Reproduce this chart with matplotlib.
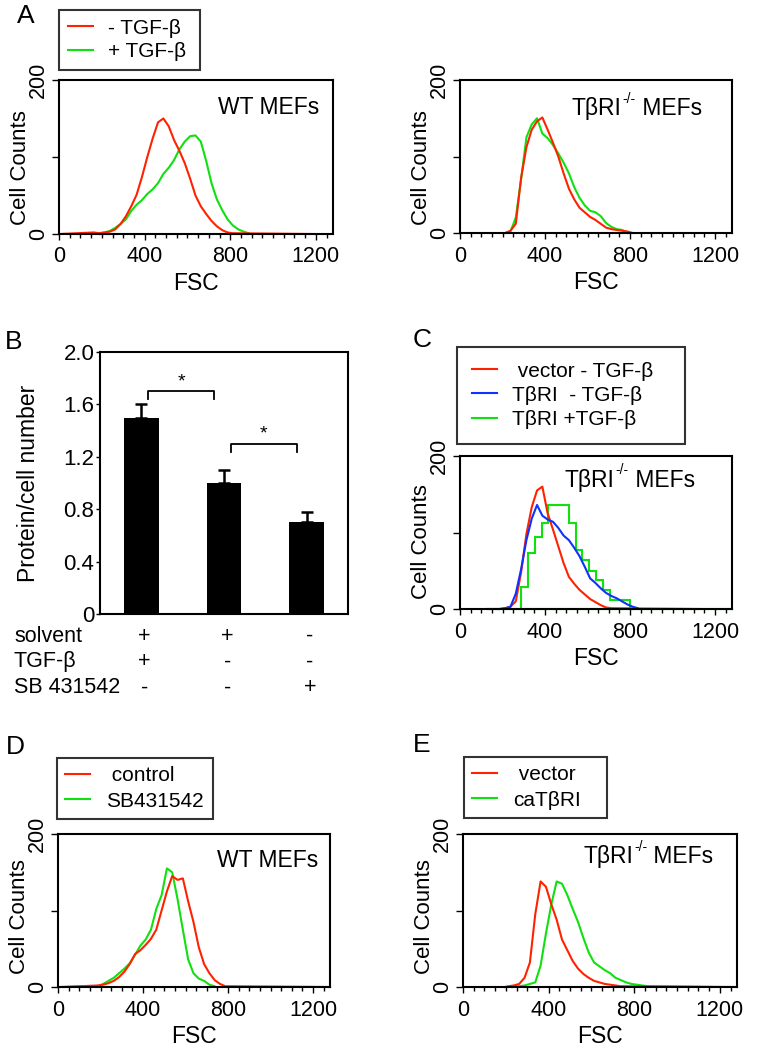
import numpy as np
import matplotlib as mpl
mpl.use('Agg')
import matplotlib.pyplot as plt
from matplotlib.lines import Line2D
from matplotlib.ticker import MultipleLocator
import matplotlib.transforms as mtransforms

plt.rcParams['font.family'] = ['Liberation Sans', 'DejaVu Sans']

RED = '#ff2200'
GREEN = '#10e010'
BLUE = '#1030ff'

# ---------------- histogram data (FSC, bin width 25) ----------------
FSC_BIN = 25

# A, WT MEFs
a_wt_minus_start = 150
a_wt_minus = [2, 1, 2, 3, 6, 13, 23, 36, 51, 74, 100, 124, 145, 150, 140, 122,
              108, 92, 72, 50, 36, 26, 17, 10, 5, 2, 1]
a_wt_minus_span = (5, 1180)
a_wt_plus_start = 175
a_wt_plus = [1, 2, 4, 8, 13, 19, 30, 38, 44, 52, 58, 66, 78, 86, 96, 110, 120,
             127, 128, 120, 95, 66, 45, 31, 19, 11, 6, 3, 1]
a_wt_plus_span = (190, 880)

# A, TbRI-/- MEFs
a_ko_minus_start = 200
a_ko_minus = [0, 3, 12, 72, 112, 135, 146, 151, 135, 118, 100, 78, 58, 44, 33,
              27, 21, 17, 12, 7, 5, 4, 3, 2, 0]
a_ko_plus_start = 200
a_ko_plus = [0, 2, 20, 70, 125, 142, 150, 130, 124, 115, 104, 92, 78, 60, 46,
             36, 29, 27, 22, 13, 8, 5, 4, 0]

# C, TbRI-/- MEFs re-expression
c_vec_start = 175
c_vec = [0, 1, 3, 10, 48, 98, 133, 155, 160, 125, 104, 82, 60, 42, 33, 25, 19,
         13, 9, 5, 2, 1]
c_vec_span = (180, 1120)
c_tbri_start = 125
c_tbri = [0, 0, 0, 1, 3, 20, 52, 90, 118, 136, 122, 117, 114, 106, 96, 90, 80,
          69, 55, 40, 34, 27, 21, 17, 14, 10, 6, 3, 1]
c_tbri_span = (128, 814)
# coarse-binned sample
c_tbri_tgf_edges = [288, 320, 352, 384, 416, 448, 480, 512, 544, 576, 608, 640,
                    672, 704, 736, 768, 800]
c_tbri_tgf = [29, 73, 94, 112, 136, 136, 136, 112, 77, 64, 50, 38, 25, 12, 12, 12]
c_tbri_tgf_span = (141, 1280)

# D, WT MEFs +/- SB431542
d_ctrl_start = 175
d_ctrl = [2, 3, 5, 8, 13, 20, 30, 43, 48, 55, 63, 75, 100, 125, 145, 140, 142,
          112, 85, 52, 30, 18, 9, 4, 1]
d_ctrl_span = (24, 1280)
d_sb_start = 175
d_sb = [1, 4, 8, 12, 18, 24, 31, 42, 54, 62, 75, 102, 120, 155, 150, 115, 75,
        36, 18, 11, 8, 3, 1]
d_sb_span = (0, 720)

# E, TbRI-/- MEFs vector / caTbRI
e_vec_start = 200
e_vec = [1, 2, 4, 12, 32, 95, 138, 131, 108, 88, 62, 48, 34, 24, 17, 12, 8, 6,
         4, 3, 2, 1]
e_vec_span = (196, 1168)
e_ca_start = 225
e_ca = [1, 1, 2, 4, 6, 28, 70, 108, 138, 135, 120, 102, 85, 64, 45, 32, 27, 22,
        18, 12, 9, 6, 4, 3, 2, 1]
e_ca_span = (230, 1280)

# ---------------- bar data (panel B) ----------------
b_values = [1.5, 1.0, 0.7]
b_errors = [0.1, 0.1, 0.08]
b_rows = ['solvent', 'TGF-β', 'SB 431542']
b_signs = [['+', '+', '-'],
           ['+', '-', '-'],
           ['-', '-', '+']]
b_sig = [(0, 1, 1.70), (1, 2, 1.30)]

W, H = 761, 1050
fig = plt.figure(figsize=(W / 100, H / 100), dpi=100)

TICK_FS = 15.5
LABEL_FS = 16.5
LEG_FS = 15


def px_axes(x0, y0, x1, y1):
    return fig.add_axes([x0 / W, 1 - y1 / H, (x1 - x0) / W, (y1 - y0) / H])


def hist_line(ax, start, counts, color, span=None):
    x = start + FSC_BIN * np.arange(len(counts)) + FSC_BIN / 2
    y = np.asarray(counts, dtype=float)
    if span is not None:
        x = np.concatenate([[span[0]], x, [span[1]]])
        y = np.concatenate([[0], y, [0]])
    ax.plot(x, y, color=color, lw=1.5, clip_on=False)


def setup_hist(ax, label_y=0.45):
    ax.set_xlim(0, 1280)
    ax.set_ylim(0, 200)
    ax.set_xticks([0, 400, 800, 1200])
    ax.xaxis.set_minor_locator(MultipleLocator(50))
    ax.set_yticks([0, 100, 200])
    ax.set_yticklabels(['0', '', '200'], rotation=90, va='center')
    ax.tick_params(axis='x', which='major', length=4, width=1,
                   labelsize=TICK_FS, pad=5)
    ax.tick_params(axis='x', which='minor', length=3, width=1)
    ax.tick_params(axis='y', length=5, width=1, labelsize=TICK_FS, pad=2)
    ax.set_xlabel('FSC', fontsize=LABEL_FS, labelpad=3)
    ax.set_ylabel('Cell Counts', fontsize=16)
    # keep the rotated label clear of the rotated tick labels
    ax.yaxis.set_label_coords(-28 / (ax.get_position().width * W), label_y)
    for s in ax.spines.values():
        s.set_linewidth(1.5)


def wt_label(ax, x, y):
    ax.text(x, y, 'WT MEFs', transform=ax.transAxes, ha='right', va='center',
            fontsize=LABEL_FS)


def ko_label(ax, x, y):
    # TβRI with small "-/-" superscript, then " MEFs"
    t1 = ax.text(x, y, 'TβRI', transform=ax.transAxes, ha='left',
                 va='baseline', fontsize=LABEL_FS)
    t2 = ax.annotate('-/-', xy=(1.02, 0.62), xycoords=t1, ha='left',
                     va='bottom', fontsize=10)
    ax.annotate(' MEFs', xy=(1, 0), xycoords=(t2, t1), ha='left', va='bottom',
                fontsize=LABEL_FS)


def legend_box(x0, y0, x1, handles, spacing=0.3, pad=0.4):
    leg = fig.legend(handles=handles, loc='upper left',
                     bbox_to_anchor=(x0 / W, 1 - y0 / H, (x1 - x0) / W, 0.001),
                     mode='expand', borderaxespad=0,
                     fontsize=LEG_FS, frameon=True, fancybox=False,
                     edgecolor='k', handlelength=1.2, handletextpad=0.75,
                     labelspacing=spacing, borderpad=pad)
    leg.get_frame().set_linewidth(1.5)
    return leg


def panel_letter(x, y, s):
    fig.text(x / W, 1 - y / H, s, fontsize=19, ha='center', va='center')


def h(color, label):
    return Line2D([0], [0], color=color, lw=1.5, label=label)


# ---------- A ----------
ax = px_axes(59, 80, 333, 234)
hist_line(ax, a_wt_plus_start, a_wt_plus, GREEN, a_wt_plus_span)
hist_line(ax, a_wt_minus_start, a_wt_minus, RED, a_wt_minus_span)
setup_hist(ax, 0.43)
wt_label(ax, 0.95, 0.82)
legend_box(59, 11, 200, [h(RED, '- TGF-β'), h(GREEN, '+ TGF-β')],
           spacing=0.22, pad=0.42)
panel_letter(26, 16, 'A')

ax = px_axes(460, 80, 732, 233)
hist_line(ax, a_ko_plus_start, a_ko_plus, GREEN)
hist_line(ax, a_ko_minus_start, a_ko_minus, RED)
setup_hist(ax, 0.43)
ko_label(ax, 0.41, 0.77)

# ---------- B ----------
ax = px_axes(100, 352, 348, 614)
xb = np.arange(len(b_values)) + 0.5
ax.bar(xb, b_values, width=0.42, color='k')
ax.errorbar(xb, b_values, yerr=[np.zeros(len(b_errors)), b_errors], fmt='none',
            ecolor='k', elinewidth=1.8, capsize=4, capthick=1.8)
ax.set_xlim(0, 3)
ax.set_ylim(0, 2.0)
ax.set_xticks([])
ax.set_yticks([0, 0.4, 0.8, 1.2, 1.6, 2.0])
ax.set_yticklabels(['0', '0.4', '0.8', '1.2', '1.6', '2.0'])
ax.tick_params(axis='y', length=3, width=1, labelsize=16, pad=1)
ax.set_ylabel('Protein/cell number', fontsize=LABEL_FS)
ax.yaxis.set_label_coords(-60 / 248, 0.5)
for s in ax.spines.values():
    s.set_linewidth(1.5)
for i, j, yb in b_sig:
    x0, x1 = xb[i] + 0.08, xb[j] - 0.12
    ax.plot([x0, x0, x1, x1], [yb - 0.06, yb, yb, yb - 0.06], color='k', lw=1.3)
    ax.text((x0 + x1) / 2, yb + 0.01, '*', ha='center', va='bottom', fontsize=14)
trans_row = mtransforms.blended_transform_factory(fig.transFigure, ax.transAxes)
trans_sign = mtransforms.blended_transform_factory(ax.transData, ax.transAxes)
row_y = [-0.084, -0.183, -0.282]
for r, name in enumerate(b_rows):
    ax.text(14 / W, row_y[r], name, transform=trans_row, ha='left', va='center',
            fontsize=15.5)
    for k, sgn in enumerate(b_signs[r]):
        ax.text(xb[k] + 0.04, row_y[r], sgn, transform=trans_sign, ha='center',
                va='center', fontsize=15.5)
panel_letter(14, 342, 'B')

# ---------- C ----------
ax = px_axes(460, 456, 732, 609)
ax.stairs(c_tbri_tgf, c_tbri_tgf_edges, color=GREEN, lw=1.5)
ax.plot([c_tbri_tgf_span[0], c_tbri_tgf_span[1]], [0, 0], color=GREEN, lw=1.5,
        clip_on=False)
hist_line(ax, c_vec_start, c_vec, RED, c_vec_span)
hist_line(ax, c_tbri_start, c_tbri, BLUE, c_tbri_span)
setup_hist(ax, 0.44)
ko_label(ax, 0.386, 0.80)
legend_box(457, 348, 685, [h(RED, ' vector - TGF-β'), h(BLUE, 'TβRI  - TGF-β'),
                           h(GREEN, 'TβRI +TGF-β')], spacing=0.25, pad=0.7)
panel_letter(422, 340, 'C')

# ---------- D ----------
ax = px_axes(58, 834, 330, 987)
hist_line(ax, d_sb_start, d_sb, GREEN, d_sb_span)
hist_line(ax, d_ctrl_start, d_ctrl, RED, d_ctrl_span)
setup_hist(ax, 0.46)
wt_label(ax, 0.956, 0.83)
legend_box(57, 759, 213, [h(RED, ' control'), h(GREEN, 'SB431542')])
panel_letter(15, 747, 'D')

# ---------- E ----------
ax = px_axes(463, 834, 737, 987)
hist_line(ax, e_ca_start, e_ca, GREEN, e_ca_span)
hist_line(ax, e_vec_start, e_vec, RED, e_vec_span)
setup_hist(ax, 0.46)
ko_label(ax, 0.438, 0.81)
legend_box(464, 758, 607, [h(RED, ' vector'), h(GREEN, 'caTβRI')])
panel_letter(422, 745, 'E')

fig.savefig('out.png', dpi=100)
